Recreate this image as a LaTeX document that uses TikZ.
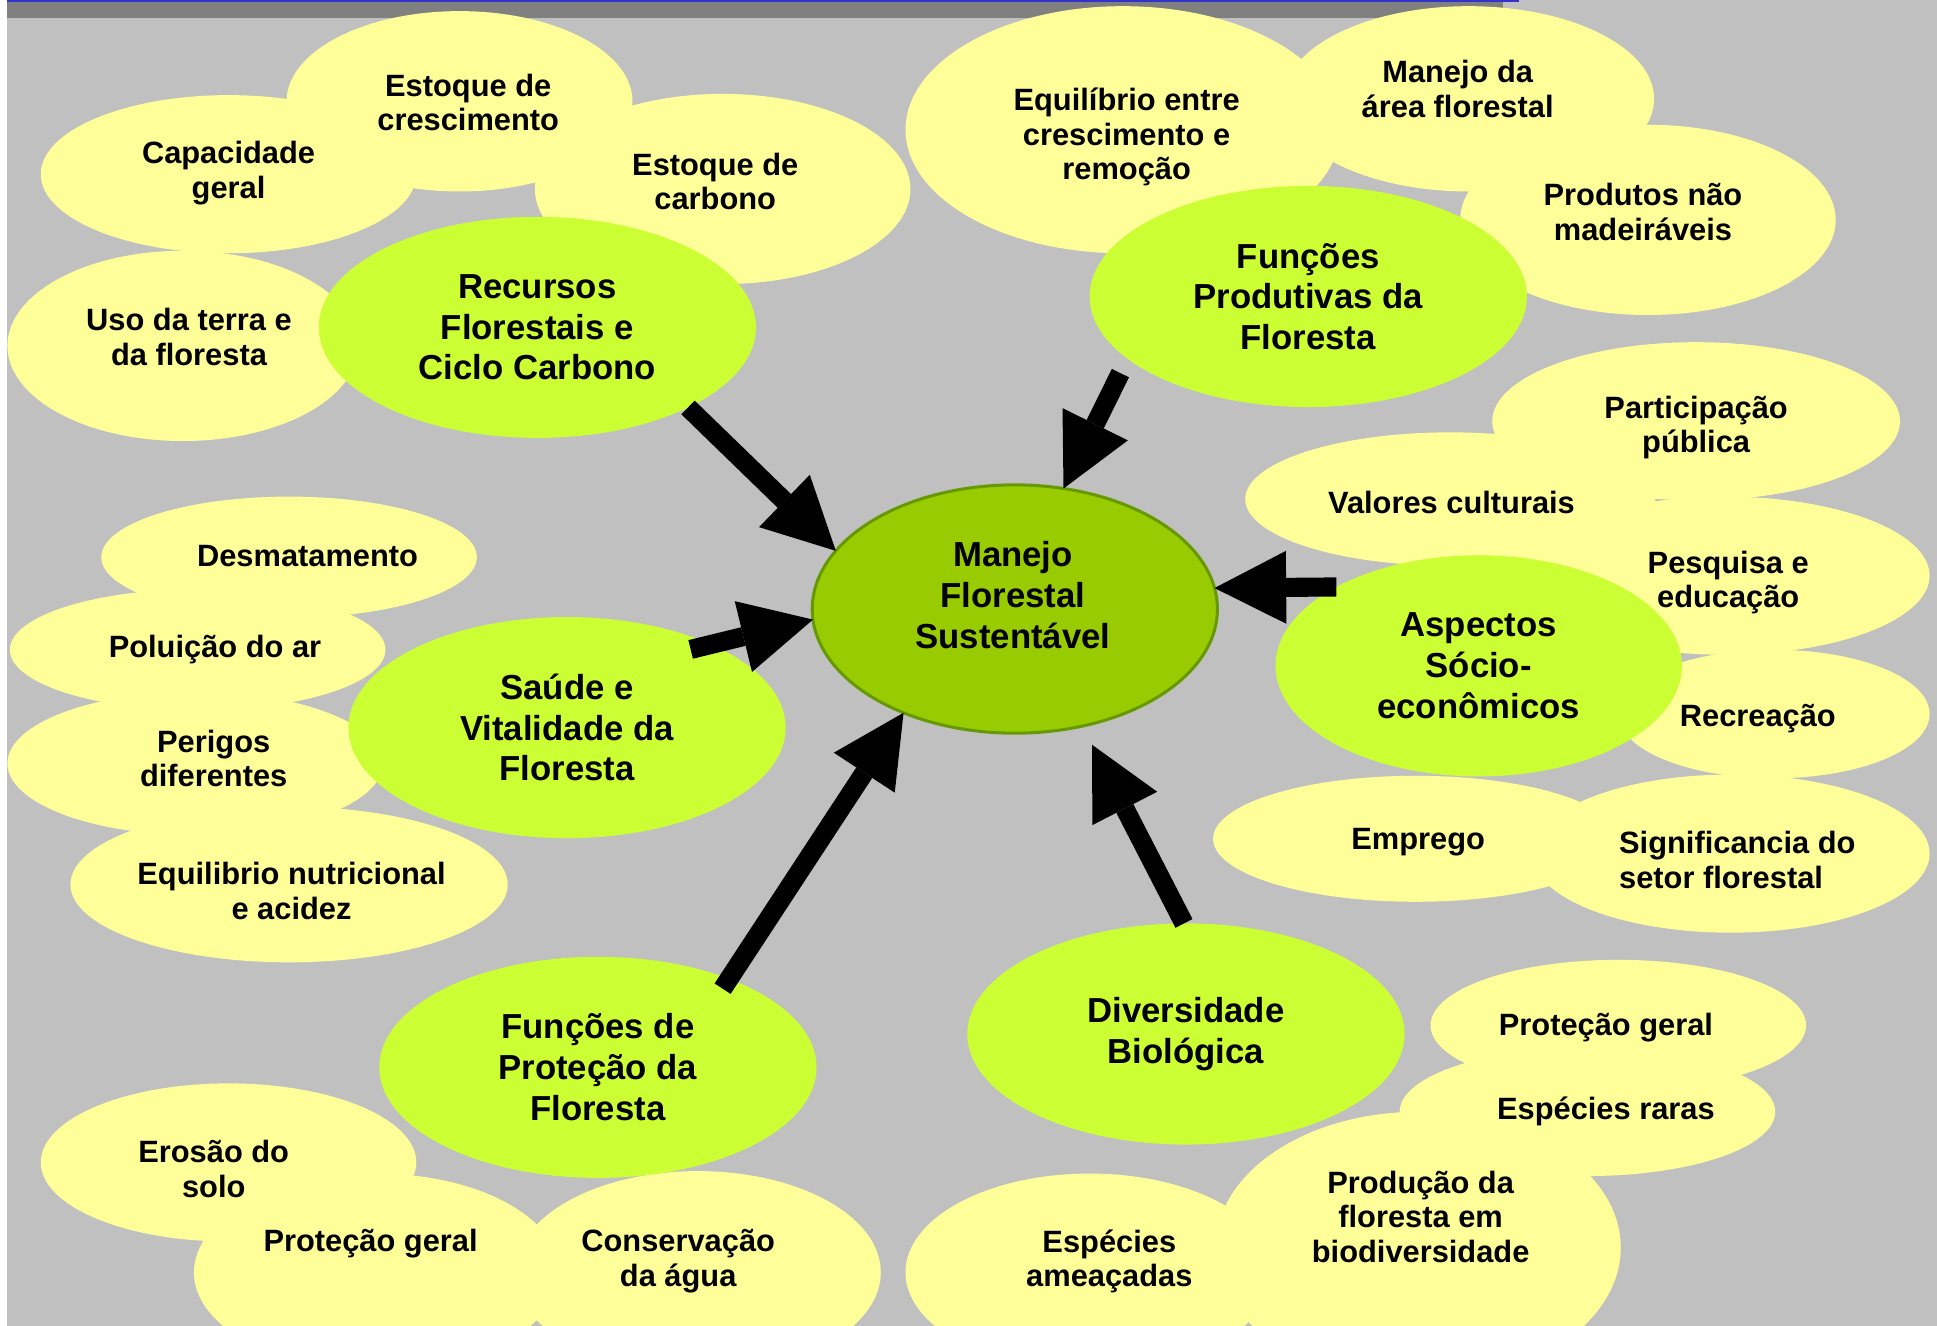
\documentclass[tikz,border=0pt]{standalone}
\usepackage{fontspec}
\setmainfont{Liberation Sans}
\usepackage{tikz}
\usetikzlibrary{arrows.meta,shapes.geometric}

\definecolor{bggray}{HTML}{C0C0C0}
\definecolor{bargray}{HTML}{808080}
\definecolor{barblue}{HTML}{3333CC}
\definecolor{bubble}{HTML}{FFFF99}
\definecolor{lime}{HTML}{CCFF33}
\definecolor{hubgreen}{HTML}{99CC00}
\definecolor{hubline}{HTML}{669900}

\begin{document}
\begin{tikzpicture}[x=0.1mm,y=-0.1mm,
    txt/.style={font=\bfseries\fontsize{7.1}{8}\selectfont, align=center, inner sep=0pt, yshift=-0.2mm},
    bigtxt/.style={font=\bfseries\fontsize{8}{9.4}\selectfont, align=center, inner sep=0pt},
    topic/.style={ellipse, fill=lime, minimum width=35.4mm, minimum height=17.9mm,
      inner sep=0pt, outer sep=0pt, bigtxt},
    hub/.style={ellipse, fill=hubgreen, draw=hubline, line width=0.7pt,
      minimum width=32.8mm, minimum height=20.1mm, inner sep=0pt, outer sep=0pt},
    bigarrow/.style={line width=4.4pt, -{Triangle[length=5.8mm,width=5.9mm,line width=0pt]}}]

      \clip (0,0) rectangle (1568,1073);
      \fill[white] (0,0) rectangle (1568,1073);
      \fill[bggray] (6,0) rectangle (1568,1073);
      \fill[barblue] (6,0) rectangle (1230,1.6);
      \fill[bargray] (6,1.6) rectangle (1217,14.6);

      % yellow bubbles
      \fill[bubble] (372,82) ellipse [x radius=14mm, y radius=7.3mm];
      \fill[bubble] (185,141) ellipse [x radius=15.2mm, y radius=6.4mm];
      \fill[bubble] (585,153) ellipse [x radius=15.2mm, y radius=7.7mm];
      \fill[bubble] (148,280) ellipse [x radius=14.2mm, y radius=7.7mm];
      \fill[bubble] (909,105) ellipse [x radius=17.6mm, y radius=10mm];
      \fill[bubble] (1189,80) ellipse [x radius=15mm, y radius=7.5mm];
      \fill[bubble] (1334,178) ellipse [x radius=15.2mm, y radius=7.7mm];
      \fill[bubble] (1373,341) ellipse [x radius=16.5mm, y radius=6.4mm];
      \fill[bubble] (1174,404) ellipse [x radius=16.6mm, y radius=5.4mm];
      \fill[bubble] (1396,466) ellipse [x radius=16.6mm, y radius=6.4mm];
      \fill[bubble] (1436,578) ellipse [x radius=12.6mm, y radius=5.2mm];
      \fill[bubble] (1146,679) ellipse [x radius=16.4mm, y radius=5.1mm];
      \fill[bubble] (1401,691) ellipse [x radius=16.1mm, y radius=6.4mm];
      \fill[bubble] (234,451) ellipse [x radius=15.2mm, y radius=4.9mm];
      \fill[bubble] (160,526) ellipse [x radius=15.2mm, y radius=4.9mm];
      \fill[bubble] (158,618) ellipse [x radius=15.2mm, y radius=5.8mm];
      \fill[bubble] (234,716) ellipse [x radius=17.7mm, y radius=6.3mm];
      \fill[bubble] (1310,830) ellipse [x radius=15.2mm, y radius=5.3mm];
      \fill[bubble] (1285,900) ellipse [x radius=15.2mm, y radius=5.2mm];
      \fill[bubble] (1148,1010) ellipse [x radius=16.4mm, y radius=11mm];
      \fill[bubble] (882,1030) ellipse [x radius=14.9mm, y radius=8mm];
      \fill[bubble] (185,941) ellipse [x radius=15.2mm, y radius=6.4mm];
      \fill[bubble] (305,1030) ellipse [x radius=14.8mm, y radius=8mm];
      \fill[bubble] (565,1030) ellipse [x radius=14.8mm, y radius=8.2mm];

      % bubble texts
      \node[txt] (estc) at (379,81) {Estoque de\\crescimento};
      \node[txt] (capg) at (185,138) {Capacidade\\geral};
      \node[txt] (estk) at (579,145) {Estoque de\\carbono};
      \node[txt] (uso) at (153,270.5) {Uso da terra e\\da floresta};
      \node[txt] (equi) at (912,109) {Equilíbrio entre\\crescimento e\\remoção};
      \node[txt] (mane) at (1180,70) {Manejo da\\área florestal};
      \node[txt] (prod) at (1330,169.5) {Produtos não\\madeiráveis};
      \node[txt] (part) at (1373,344) {Participação\\pública};
      \node[txt] (valo) at (1175,405) {Valores culturais};
      \node[txt] (pesq) at (1399,469.5) {Pesquisa e\\educação};
      \node[txt] (recr) at (1423,580) {Recreação};
      \node[txt] (empr) at (1148,680) {Emprego};
      \node[txt, align=left, anchor=west] (sign) at (1310,694) {Significancia do\\setor florestal};
      \node[txt] (desm) at (249,448) {Desmatamento};
      \node[txt] (polu) at (174,524) {Poluição do ar};
      \node[txt] (peri) at (173,612) {Perigos\\diferentes};
      \node[txt] (nutr) at (236,719) {Equilibrio nutricional\\e acidez};
      \node[txt] (protd) at (1300,830) {Proteção geral};
      \node[txt] (rara) at (1300,898) {Espécies raras};
      \node[txt] (biod) at (1150,983) {Produção da\\floresta em\\biodiversidade};
      \node[txt] (amea) at (898,1019) {Espécies\\ameaçadas};
      \node[txt] (eros) at (173,944) {Erosão do\\solo};
      \node[txt] (prote) at (300,1005) {Proteção geral};
      \node[txt] (agua) at (549,1019) {Conservação\\da água};

      % main topics
      \node[topic] (rec) at (435,265) {Recursos\\Florestais e\\Ciclo Carbono};
      \node[topic] (fpr) at (1059,240) {Funções\\Produtivas da\\Floresta};
      \node[topic, minimum width=32.9mm] (asp) at (1197,539) {Aspectos\\Sócio-\\econômicos};
      \node[topic] (sau) at (459,589) {Saúde e\\Vitalidade da\\Floresta};
      \node[topic] (fpp) at (484,864) {Funções de\\Proteção da\\Floresta};
      \node[topic] (div) at (960,837) {Diversidade\\Biológica};

      \node[hub] (mfs) at (821.5,493) {};
      \node[bigtxt] (mfst) at (820,481.5) {Manejo\\Florestal\\Sustentável};

      \draw[bigarrow] (rec.-28) -- (mfs.162);
      \draw[bigarrow, shorten <=1.3mm] (fpr.199.5) -- (mfs.68);
      \draw[bigarrow] (asp.151) -- (mfs.6);
      \draw[bigarrow, shorten <=-1.7mm] (sau.30.4) -- (mfs.183);
      \draw[bigarrow, shorten <=-0.95mm] (fpp.34.6) -- (mfs.223.7);
      \draw[bigarrow, shorten >=1.7mm] (div.91.6) -- (mfs.-60);
\end{tikzpicture}
\end{document}
